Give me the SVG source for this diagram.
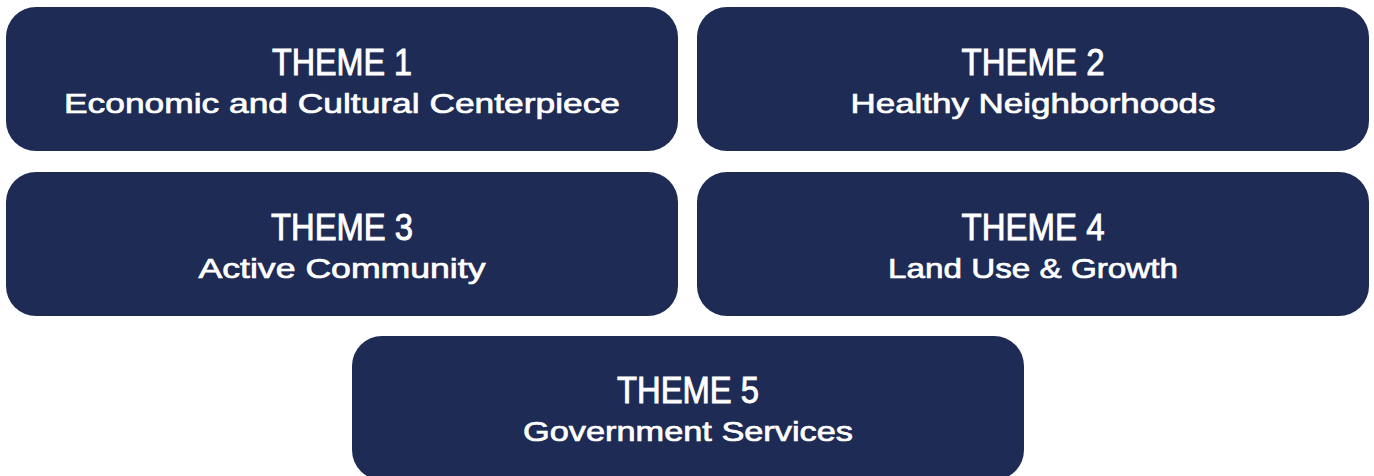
<svg xmlns="http://www.w3.org/2000/svg" width="1374" height="476" viewBox="0 0 1374 476">
  <style>
    .box { fill: #1e2b55; }
    .title { font-family: "Liberation Sans", Arial, sans-serif; font-size: 36px; fill: #ffffff; stroke: #ffffff; stroke-width: 0.9px; text-anchor: middle; }
    .sub { font-family: "Liberation Sans", Arial, sans-serif; font-size: 28px; fill: #ffffff; stroke: #ffffff; stroke-width: 0.7px; text-anchor: middle; }
  </style>
  <rect width="1374" height="476" fill="#ffffff"/>

  <g id="theme1">
    <rect class="box" x="6" y="7" width="672" height="144" rx="30" ry="30"/>
    <text class="title" x="342" y="75" textLength="140" lengthAdjust="spacingAndGlyphs">THEME 1</text>
    <text class="sub" x="342" y="113" textLength="556" lengthAdjust="spacingAndGlyphs">Economic and Cultural Centerpiece</text>
  </g>

  <g id="theme2">
    <rect class="box" x="697" y="7" width="672" height="144" rx="30" ry="30"/>
    <text class="title" x="1033" y="75" textLength="143" lengthAdjust="spacingAndGlyphs">THEME 2</text>
    <text class="sub" x="1033" y="113" textLength="365" lengthAdjust="spacingAndGlyphs">Healthy Neighborhoods</text>
  </g>

  <g id="theme3">
    <rect class="box" x="6" y="172" width="672" height="144" rx="30" ry="30"/>
    <text class="title" x="342" y="240" textLength="142" lengthAdjust="spacingAndGlyphs">THEME 3</text>
    <text class="sub" x="342" y="278" textLength="287" lengthAdjust="spacingAndGlyphs">Active Community</text>
  </g>

  <g id="theme4">
    <rect class="box" x="697" y="172" width="672" height="144" rx="30" ry="30"/>
    <text class="title" x="1033" y="240" textLength="143" lengthAdjust="spacingAndGlyphs">THEME 4</text>
    <text class="sub" x="1033" y="278" textLength="290" lengthAdjust="spacingAndGlyphs">Land Use &amp; Growth</text>
  </g>

  <g id="theme5">
    <rect class="box" x="352" y="336" width="672" height="144" rx="30" ry="30"/>
    <text class="title" x="688" y="403" textLength="142" lengthAdjust="spacingAndGlyphs">THEME 5</text>
    <text class="sub" x="688" y="441" textLength="330" lengthAdjust="spacingAndGlyphs">Government Services</text>
  </g>

  <g id="connectors"/>
</svg>
